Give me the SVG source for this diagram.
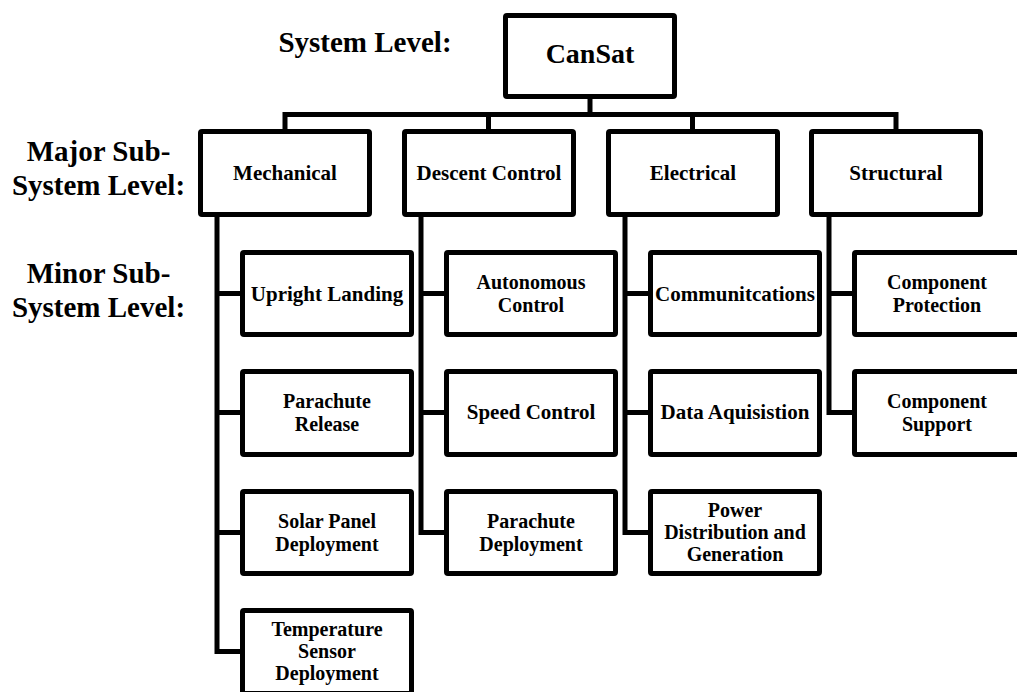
<svg xmlns="http://www.w3.org/2000/svg" width="1017" height="692" viewBox="0 0 1017 692">
<style>
  .box { fill: #ffffff; stroke: #000000; stroke-width: 5; }
  .ln { fill: none; stroke: #000000; stroke-width: 5; stroke-linejoin: miter; }
  .t { font-family: "Liberation Serif", "Times New Roman", serif; font-weight: bold; fill: #000000; text-anchor: middle; font-size: 21px; }
  .m { font-size: 20px; }
  .lbl { font-family: "Liberation Serif", "Times New Roman", serif; font-weight: bold; fill: #000000; text-anchor: middle; font-size: 29px; }
</style>
<rect width="1017" height="692" fill="#ffffff"/>

<g id="level-labels">
  <text class="lbl" x="365" y="52">System Level:</text>
  <text class="lbl" x="98.5" y="161">Major Sub-</text>
  <text class="lbl" x="98.5" y="195">System Level:</text>
  <text class="lbl" x="98.5" y="283">Minor Sub-</text>
  <text class="lbl" x="98.5" y="317">System Level:</text>
</g>

<g id="connectors">
  <path class="ln" d="M590 97 V114.5"/>
  <path class="ln" d="M285 131 V114.5 H896 V131"/>
  <path class="ln" d="M488.5 114.5 V131"/>
  <path class="ln" d="M692.5 114.5 V131"/>
  <path class="ln" d="M217 215 V651.5 H242"/>
  <path class="ln" d="M217 293.5 H242 M217 412.5 H242 M217 532.5 H242"/>
  <path class="ln" d="M421 215 V532.5 H446"/>
  <path class="ln" d="M421 293.5 H446 M421 412.5 H446"/>
  <path class="ln" d="M625 215 V532.5 H650"/>
  <path class="ln" d="M625 293.5 H650 M625 412.5 H650"/>
  <path class="ln" d="M829 215 V412.5 H854"/>
  <path class="ln" d="M829 293.5 H854"/>
</g>

<g id="cansat">
  <rect class="box" x="505.5" y="15.5" width="169" height="81" rx="1.5"/>
  <text class="t" x="590" y="63" style="font-size:28px">CanSat</text>
</g>

<g id="mechanical">
  <rect class="box" x="200.5" y="131.5" width="169" height="83" rx="1.5"/>
  <text class="t" x="285" y="180">Mechanical</text>
</g>
<g id="descent-control">
  <rect class="box" x="404.5" y="131.5" width="169" height="83" rx="1.5"/>
  <text class="t" x="489" y="180">Descent Control</text>
</g>
<g id="electrical">
  <rect class="box" x="608.5" y="131.5" width="169" height="83" rx="1.5"/>
  <text class="t" x="693" y="180">Electrical</text>
</g>
<g id="structural">
  <rect class="box" x="811.5" y="131.5" width="169" height="83" rx="1.5"/>
  <text class="t" x="896" y="180">Structural</text>
</g>

<g id="upright-landing">
  <rect class="box" x="242.5" y="252.5" width="169" height="82" rx="1.5"/>
  <text class="t" x="327" y="301">Upright Landing</text>
</g>
<g id="parachute-release">
  <rect class="box" x="242.5" y="371.5" width="169" height="83" rx="1.5"/>
  <text class="t m" x="327" y="408">Parachute</text>
  <text class="t m" x="327" y="430.5">Release</text>
</g>
<g id="solar-panel-deployment">
  <rect class="box" x="242.5" y="491.5" width="169" height="82" rx="1.5"/>
  <text class="t m" x="327" y="528">Solar Panel</text>
  <text class="t m" x="327" y="550.5">Deployment</text>
</g>
<g id="temperature-sensor-deployment">
  <rect class="box" x="242.5" y="610.5" width="169" height="83" rx="1.5"/>
  <text class="t m" x="327" y="636">Temperature</text>
  <text class="t m" x="327" y="658">Sensor</text>
  <text class="t m" x="327" y="680">Deployment</text>
</g>

<g id="autonomous-control">
  <rect class="box" x="446.5" y="252.5" width="169" height="82" rx="1.5"/>
  <text class="t m" x="531" y="289">Autonomous</text>
  <text class="t m" x="531" y="311.5">Control</text>
</g>
<g id="speed-control">
  <rect class="box" x="446.5" y="371.5" width="169" height="83" rx="1.5"/>
  <text class="t" x="531" y="419">Speed Control</text>
</g>
<g id="parachute-deployment">
  <rect class="box" x="446.5" y="491.5" width="169" height="82" rx="1.5"/>
  <text class="t m" x="531" y="528">Parachute</text>
  <text class="t m" x="531" y="550.5">Deployment</text>
</g>

<g id="communitcations">
  <rect class="box" x="650.5" y="252.5" width="169" height="82" rx="1.5"/>
  <text class="t" x="735" y="301">Communitcations</text>
</g>
<g id="data-aquisistion">
  <rect class="box" x="650.5" y="371.5" width="169" height="83" rx="1.5"/>
  <text class="t" x="735" y="419">Data Aquisistion</text>
</g>
<g id="power-distribution">
  <rect class="box" x="650.5" y="491.5" width="169" height="82" rx="1.5"/>
  <text class="t m" x="735" y="516.5">Power</text>
  <text class="t m" x="735" y="538.5">Distribution and</text>
  <text class="t m" x="735" y="560.5">Generation</text>
</g>

<g id="component-protection">
  <rect class="box" x="854.5" y="252.5" width="169" height="82" rx="1.5"/>
  <text class="t m" x="937" y="289">Component</text>
  <text class="t m" x="937" y="311.5">Protection</text>
</g>
<g id="component-support">
  <rect class="box" x="854.5" y="371.5" width="169" height="83" rx="1.5"/>
  <text class="t m" x="937" y="408">Component</text>
  <text class="t m" x="937" y="430.5">Support</text>
</g>
</svg>
